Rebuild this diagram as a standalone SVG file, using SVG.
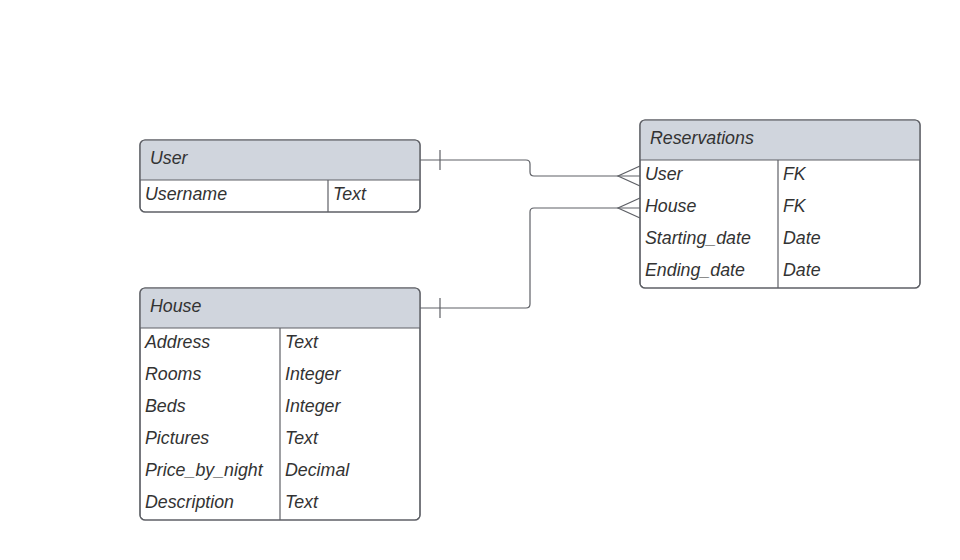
<svg xmlns="http://www.w3.org/2000/svg" width="960" height="560" viewBox="0 0 960 560">
<style>
.frame{fill:#ffffff;stroke:#5e6066;stroke-width:1.2}
.head{fill:#d0d5dd;stroke:none}
.line{stroke:#5e6066;stroke-width:1.2;fill:none}
.t{font-family:"Liberation Sans",Arial,sans-serif;font-style:italic;font-size:17.8px;fill:#333333}
.conn{stroke:#5e6066;stroke-width:1.2;fill:none}
</style>
<rect width="960" height="560" fill="#ffffff"/>
<g id="user">
<rect class="frame" x="140" y="140" width="280" height="72" rx="5"/>
<path class="head" d="M145,140.6 H415 A4.4,4.4 0 0 1 419.4,145 V180 H140.6 V145 A4.4,4.4 0 0 1 145,140.6 Z"/>
<rect class="frame" x="140" y="140" width="280" height="72" rx="5" style="fill:none"/>
<line class="line" x1="140" y1="180" x2="420" y2="180"/>
<line class="line" x1="328" y1="180" x2="328" y2="212"/>
<text class="t" x="150" y="164">User</text>
<text class="t" x="145" y="200">Username</text>
<text class="t" x="333" y="200">Text</text>
</g>
<g id="house">
<rect class="frame" x="140" y="288" width="280" height="232" rx="5"/>
<path class="head" d="M145,288.6 H415 A4.4,4.4 0 0 1 419.4,293 V328 H140.6 V293 A4.4,4.4 0 0 1 145,288.6 Z"/>
<rect class="frame" x="140" y="288" width="280" height="232" rx="5" style="fill:none"/>
<line class="line" x1="140" y1="328" x2="420" y2="328"/>
<line class="line" x1="280" y1="328" x2="280" y2="520"/>
<text class="t" x="150" y="312">House</text>
<text class="t" x="145" y="348">Address</text>
<text class="t" x="285" y="348">Text</text>
<text class="t" x="145" y="380">Rooms</text>
<text class="t" x="285" y="380">Integer</text>
<text class="t" x="145" y="412">Beds</text>
<text class="t" x="285" y="412">Integer</text>
<text class="t" x="145" y="444">Pictures</text>
<text class="t" x="285" y="444">Text</text>
<text class="t" x="145" y="476">Price_by_night</text>
<text class="t" x="285" y="476">Decimal</text>
<text class="t" x="145" y="508">Description</text>
<text class="t" x="285" y="508">Text</text>
</g>
<g id="reservations">
<rect class="frame" x="640" y="120" width="280" height="168" rx="5"/>
<path class="head" d="M645,120.6 H915 A4.4,4.4 0 0 1 919.4,125 V160 H640.6 V125 A4.4,4.4 0 0 1 645,120.6 Z"/>
<rect class="frame" x="640" y="120" width="280" height="168" rx="5" style="fill:none"/>
<line class="line" x1="640" y1="160" x2="920" y2="160"/>
<line class="line" x1="778" y1="160" x2="778" y2="288"/>
<text class="t" x="650" y="144">Reservations</text>
<text class="t" x="645" y="180">User</text>
<text class="t" x="783" y="180">FK</text>
<text class="t" x="645" y="212">House</text>
<text class="t" x="783" y="212">FK</text>
<text class="t" x="645" y="244">Starting_date</text>
<text class="t" x="783" y="244">Date</text>
<text class="t" x="645" y="276">Ending_date</text>
<text class="t" x="783" y="276">Date</text>
</g>
<g id="connectors">
<path class="conn" d="M420,160 H526 Q530,160 530,164 V172 Q530,176 534,176 H640"/>
<line class="conn" x1="440" y1="150" x2="440" y2="170"/>
<path class="conn" d="M640,166 L618,176 L640,186"/>
<path class="conn" d="M420,308 H526 Q530,308 530,304 V212 Q530,208 534,208 H640"/>
<line class="conn" x1="440" y1="298" x2="440" y2="318"/>
<path class="conn" d="M640,198 L618,208 L640,218"/>
</g>
</svg>
